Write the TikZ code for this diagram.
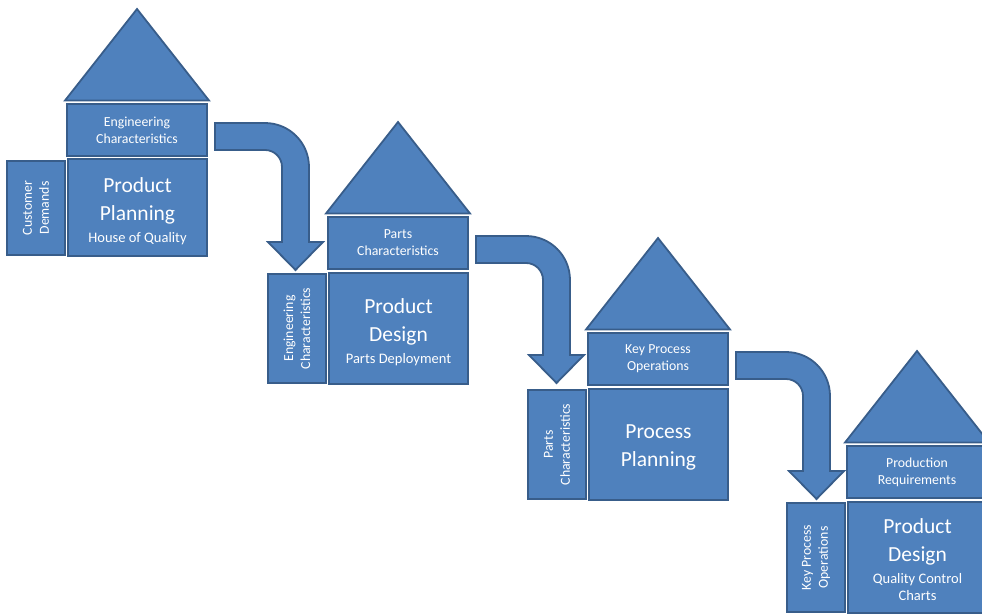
\documentclass[tikz,border=0pt]{standalone}
\usepackage{fontspec}
\setmainfont{Carlito}
\usetikzlibrary{calc}
\definecolor{qfdfill}{HTML}{4F81BD}
\definecolor{qfdline}{HTML}{385D8A}
\newcommand{\subtxt}{\fontsize{14.5}{17}\selectfont}
\newcommand{\lowerby}[1]{\rule{0pt}{#1}}
\tikzset{
  qbox/.style={draw=qfdline, fill=qfdfill, line width=1.8pt, text=white, align=center,
    inner sep=0pt, outer sep=0pt, rectangle},
  topbox/.style={qbox, anchor=north west, minimum width=140pt, minimum height=52pt,
    font=\fontsize{13.8}{17}\selectfont},
  mainbox/.style={qbox, anchor=north west, minimum width=139pt,
    font=\fontsize{21.5}{28}\selectfont},
  sidebox/.style={qbox, rotate=90, minimum height=58pt,
    font=\fontsize{13.8}{17}\selectfont},
  roof/.style={draw=qfdline, fill=qfdfill, line width=1.8pt, line join=miter},
  bigarrow/.style={draw=qfdline, fill=qfdfill, line width=1.8pt, line join=miter}
}
\newcommand{\qfdroof}[1]{%
  \begin{scope}[shift={(#1.north west)}]
    \path[roof] (-2,-3.5) -- (70,-95) -- (142,-3.5) -- cycle;
  \end{scope}}
\newcommand{\qfdarrow}[1]{%
  \begin{scope}[shift={(#1.north east)}]
    \path[bigarrow] (8,19) -- (58,19) .. controls (82.3,19) and (102,38.7) .. (102,63)
      -- (102,138) -- (116,138) -- (88.5,166) -- (61,138) -- (75,138) -- (75,63)
      .. controls (75,53.6) and (67.4,46) .. (58,46) -- (8,46) -- cycle;
  \end{scope}}
\begin{document}
\begin{tikzpicture}[x=1pt,y=-1pt]
\useasboundingbox (0,0) rectangle (982,613);
\clip (0,0) rectangle (982,613);

% group 1
\node[topbox] (top1) at (67,104) {Engineering\\Characteristics};
\node[mainbox, minimum height=97pt] (main1) at (68,159) {\lowerby{22pt}Product\\Planning\\[-6pt]\subtxt House of Quality};
\node[sidebox, minimum width=94pt] (side1) at (36,208) {Customer\\Demands};
\qfdroof{top1}
\qfdarrow{top1}

% group 2
\node[topbox] (top2) at (328,217) {Parts\\Characteristics};
\node[mainbox, minimum height=111pt] (main2) at (329,273) {\lowerby{22pt}Product\\Design\\[-6pt]\subtxt Parts Deployment};
\node[sidebox, minimum width=109pt] (side2) at (297,328.5) {Engineering\\Characteristics};
\qfdroof{top2}
\qfdarrow{top2}

% group 3
\node[topbox] (top3) at (588,333) {Key Process\\Operations};
\node[mainbox, minimum height=111pt] (main3) at (589,389) {\lowerby{20pt}Process\\Planning};
\node[sidebox, minimum width=109pt] (side3) at (557,444.5) {Parts\\Characteristics};
\qfdroof{top3}
\qfdarrow{top3}

% group 4
\node[topbox] (top4) at (847,446) {Production\\Requirements};
\node[mainbox, minimum height=111pt] (main4) at (848,502) {\lowerby{20pt}Product\\Design\\[-6pt]\subtxt Quality Control\\[-11pt]\subtxt Charts};
\node[sidebox, minimum width=109pt] (side4) at (816,557.5) {Key Process\\Operations};
\qfdroof{top4}
\end{tikzpicture}
\end{document}
